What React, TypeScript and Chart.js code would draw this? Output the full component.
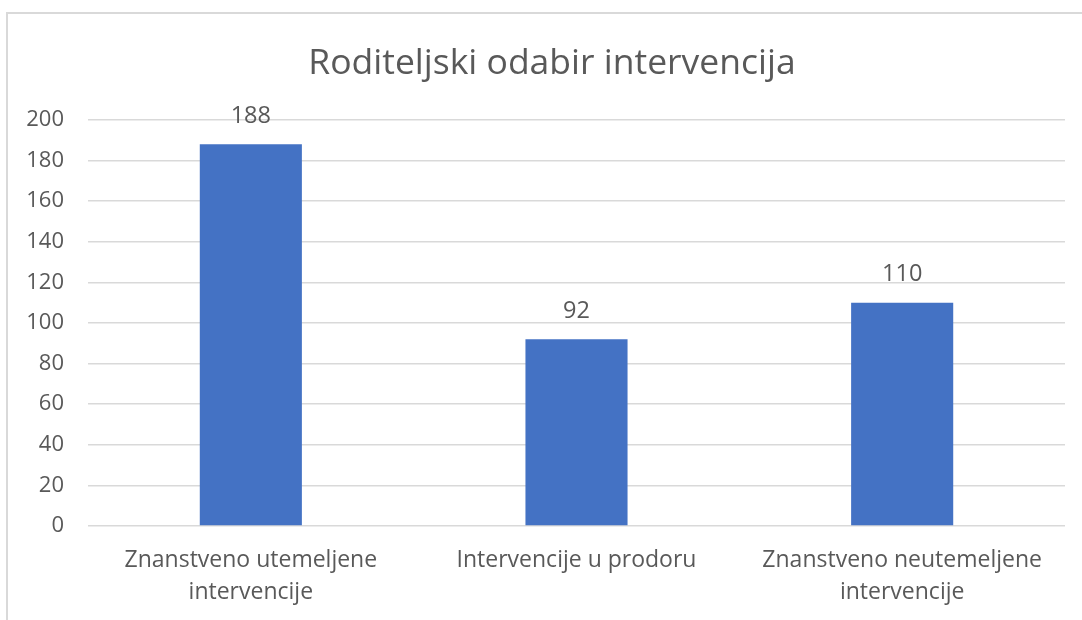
import React, { useEffect, useRef } from "react";
import { Chart, registerables } from "chart.js";

Chart.register(...registerables);

const TITLE = "Roditeljski odabir intervencija";
const categories: string[][] = [
  ["Znanstveno utemeljene", "intervencije"],
  ["Intervencije u prodoru"],
  ["Znanstveno neutemeljene", "intervencije"],
];
const values: number[] = [188, 92, 110];
const yTicks: number[] = [0, 20, 40, 60, 80, 100, 120, 140, 160, 180, 200];

const FONT = "'Open Sans', 'Noto Sans', sans-serif";
const TEXT = "#595959";
const GRID = "#d9d9d9";
const BAR = "#4472C4";

const framePlugin = {
  id: "frame",
  beforeDraw(chart: any) {
    const { ctx, width, height } = chart;
    ctx.save();
    ctx.fillStyle = "#ffffff";
    ctx.fillRect(0, 0, width, height);
    ctx.strokeStyle = GRID;
    ctx.lineWidth = 2;
    ctx.beginPath();
    ctx.moveTo(7, height + 5);
    ctx.lineTo(7, 13);
    ctx.lineTo(width + 5, 13);
    ctx.stroke();
    ctx.fillStyle = TEXT;
    ctx.font = `35.5px ${FONT}`;
    ctx.textAlign = "center";
    ctx.textBaseline = "alphabetic";
    ctx.fillText(TITLE, 552, 74);
    ctx.restore();
  },
};

const labelPlugin = {
  id: "valueLabels",
  afterDatasetsDraw(chart: any) {
    const { ctx } = chart;
    const meta = chart.getDatasetMeta(0);
    ctx.save();
    ctx.font = `23.5px ${FONT}`;
    ctx.fillStyle = TEXT;
    ctx.textAlign = "center";
    ctx.textBaseline = "middle";
    meta.data.forEach((bar: any, i: number) => {
      const v = chart.data.datasets[0].data[i];
      ctx.fillText(String(v), bar.x, bar.y - 28);
    });
    ctx.restore();
  },
};

export default function App() {
  const ref = useRef<HTMLCanvasElement | null>(null);
  useEffect(() => {
    if (!ref.current) return;
    const chart = new Chart(ref.current, {
      type: "bar",
      data: {
        labels: categories,
        datasets: [
          {
            data: values,
            backgroundColor: BAR,
            borderWidth: 0,
            categoryPercentage: 1,
            barPercentage: 0.3135,
          },
        ],
      },
      options: {
        responsive: false,
        animation: false,
        devicePixelRatio: 1,
        layout: { padding: { left: 0, right: 17, top: 120, bottom: 0 } },
        plugins: {
          legend: { display: false },
          tooltip: { enabled: false },
          title: { display: false },
        },
        scales: {
          x: {
            afterFit: (s: any) => {
              s.height = 94;
            },
            grid: { display: false, drawTicks: false },
            border: { display: false },
            ticks: {
              color: TEXT,
              font: { family: FONT, size: 23, lineHeight: 1.39 },
              padding: 18,
              maxRotation: 0,
              autoSkip: false,
            },
          },
          y: {
            min: 0,
            max: 200,
            afterFit: (s: any) => {
              s.width = 88;
            },
            afterBuildTicks: (s: any) => {
              s.ticks = yTicks.map((v) => ({ value: v }));
            },
            grid: { color: GRID, lineWidth: 1.5, drawTicks: false },
            border: { display: false },
            ticks: {
              color: TEXT,
              font: { family: FONT, size: 22 },
              padding: 24,
              stepSize: 20,
            },
          },
        },
      },
      plugins: [framePlugin, labelPlugin],
    });
    return () => chart.destroy();
  }, []);
  return (
    <div style={{ position: "fixed", left: 0, top: 0, width: 1082, height: 620 }}>
      <canvas ref={ref} width={1082} height={620} />
    </div>
  );
}
